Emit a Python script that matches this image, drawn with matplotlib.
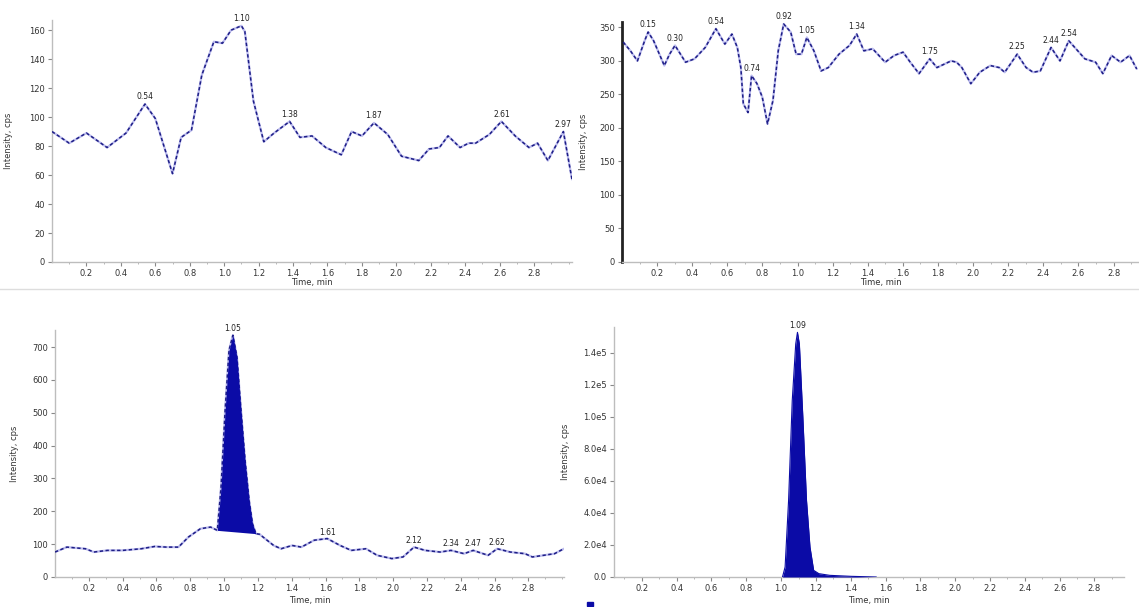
import matplotlib
matplotlib.use("Agg")
import matplotlib.pyplot as plt
import numpy as np

# ---------------- data ----------------
# Panel A (top-left)
a_time = [0.00, 0.10, 0.20, 0.32, 0.43, 0.54, 0.60, 0.70, 0.75, 0.81, 0.87, 0.94, 0.99,
          1.04, 1.10, 1.12, 1.17, 1.23, 1.29, 1.38, 1.44, 1.51, 1.59, 1.68, 1.74, 1.80,
          1.87, 1.95, 2.03, 2.13, 2.19, 2.25, 2.30, 2.37, 2.42, 2.46, 2.54, 2.61, 2.69,
          2.77, 2.82, 2.88, 2.97, 3.02]
a_int = [90, 82, 89, 79, 89, 109, 99, 61, 86, 91, 129, 152, 151, 160, 163, 159, 111, 83,
         89, 97, 86, 87, 79, 74, 90, 87, 96, 88, 73, 70, 78, 79, 87, 79, 82, 82, 88, 97,
         87, 79, 82, 70, 90, 57]
a_peaks = [0.54, 1.10, 1.38, 1.87, 2.61, 2.97]

# Panel B (top-right)
b_time = [0.007, 0.048, 0.088, 0.129, 0.149, 0.180, 0.241, 0.271, 0.302, 0.362, 0.413,
          0.474, 0.535, 0.586, 0.626, 0.657, 0.677, 0.691, 0.718, 0.738, 0.769, 0.799,
          0.829, 0.860, 0.890, 0.921, 0.961, 0.992, 1.022, 1.053, 1.093, 1.134, 1.175,
          1.236, 1.296, 1.337, 1.378, 1.428, 1.499, 1.550, 1.601, 1.642, 1.692, 1.753,
          1.794, 1.875, 1.906, 1.936, 1.987, 2.038, 2.098, 2.149, 2.180, 2.251, 2.302,
          2.342, 2.383, 2.444, 2.495, 2.545, 2.586, 2.637, 2.698, 2.739, 2.789, 2.840,
          2.891, 2.932]
b_int = [328, 315, 300, 330, 343, 330, 293, 310, 323, 298, 303, 320, 348, 325, 340, 320,
         290, 236, 223, 278, 266, 246, 206, 241, 315, 355, 343, 310, 310, 335, 315, 285,
         290, 310, 323, 340, 315, 318, 298, 308, 313, 298, 281, 303, 290, 300, 298, 290,
         266, 283, 293, 290, 283, 310, 290, 283, 285, 320, 300, 330, 318, 303, 298, 281,
         308, 298, 308, 288]
b_peaks = [0.149, 0.302, 0.535, 0.738, 0.921, 1.053, 1.337, 1.753, 2.251, 2.444, 2.545]

# Panel C (bottom-left)
c_time = [0.00, 0.07, 0.18, 0.23, 0.31, 0.40, 0.51, 0.59, 0.66, 0.73, 0.79, 0.86, 0.92,
          0.960, 0.982, 1.006, 1.029, 1.052, 1.076, 1.100, 1.124, 1.148, 1.168, 1.188,
          1.210, 1.293, 1.337, 1.402, 1.457, 1.533, 1.610, 1.686, 1.752, 1.839, 1.905,
          1.992, 2.058, 2.123, 2.189, 2.277, 2.342, 2.419, 2.473, 2.561, 2.615, 2.692,
          2.779, 2.823, 2.889, 2.954, 3.009]
c_int = [76, 91, 86, 76, 81, 81, 86, 93, 91, 91, 122, 147, 152,
         142, 274, 507, 690, 736, 670, 507, 355, 233, 162, 132,
         130, 96, 86, 96, 91, 112, 117, 96, 81, 86, 66,
         56, 61, 91, 81, 76, 81, 71, 81, 66, 86, 76,
         71, 61, 66, 71, 86]
c_peak_range = (0.960, 1.188)
c_peaks = [1.052, 1.610, 2.123, 2.342, 2.473, 2.615]

# Panel D (bottom-right)
d_time = [1.008, 1.023, 1.043, 1.064, 1.084, 1.094, 1.105, 1.125, 1.146, 1.166, 1.187,
          1.217, 1.279, 1.402, 1.546]
d_int = [0, 6230, 47770, 110080, 145400, 152660, 145400, 99700, 47770, 18690, 4150,
         2080, 1040, 415, 0]
d_peaks = [1.094]

time_ticks = [0.2, 0.4, 0.6, 0.8, 1.0, 1.2, 1.4, 1.6, 1.8, 2.0, 2.2, 2.4, 2.6, 2.8]
a_yticks = [0, 20, 40, 60, 80, 100, 120, 140, 160]
b_yticks = [0, 50, 100, 150, 200, 250, 300, 350]
c_yticks = [0, 100, 200, 300, 400, 500, 600, 700]
d_yticks = [0, 20000, 40000, 60000, 80000, 100000, 120000, 140000]
d_yticklabels = ["0.0", "2.0e4", "4.0e4", "6.0e4", "8.0e4", "1.0e5", "1.2e5", "1.4e5"]

xlabel = "Time, min"
ylabel = "Intensity, cps"

# ---------------- figure ----------------
W, H = 1139, 607
fig = plt.figure(figsize=(W / 100, H / 100), dpi=100)
fig.patch.set_facecolor("white")

LINE_DARK = "#1e1e86"
LINE_LIGHT = "#bcbcee"
FILL = "#0b0ba6"
AXC = "#bdbdbd"


def add_ax(left, right, top, bottom):
    return fig.add_axes([left / W, 1 - bottom / H, (right - left) / W, (bottom - top) / H])


def style(ax, xlim, ylim, yticks, yticklabels=None, dark_y=False):
    ax.set_xlim(*xlim)
    ax.set_ylim(*ylim)
    for s in ["top", "right"]:
        ax.spines[s].set_visible(False)
    ax.spines["bottom"].set_color(AXC)
    ax.spines["bottom"].set_linewidth(1.0)
    if dark_y:
        ax.spines["left"].set_color("#222222")
        ax.spines["left"].set_linewidth(2.0)
    else:
        ax.spines["left"].set_color(AXC)
        ax.spines["left"].set_linewidth(1.0)
    ax.set_xticks(time_ticks)
    ax.set_xticklabels([f"{t:.1f}" for t in time_ticks])
    ax.set_xticks(np.arange(0.1, xlim[1], 0.1), minor=True)
    ax.set_yticks(yticks)
    if yticklabels is not None:
        ax.set_yticklabels(yticklabels)
    ax.tick_params(axis="both", which="major", labelsize=6, length=3, width=0.8,
                   color="#888888", labelcolor="#333333", pad=2)
    ax.tick_params(axis="both", which="minor", length=1.5, width=0.6, color="#aaaaaa")
    ax.patch.set_alpha(0)


def trace(ax, x, y):
    ax.plot(x, y, color=LINE_LIGHT, lw=1.6, solid_capstyle="round", zorder=2)
    ax.plot(x, y, color=LINE_DARK, lw=1.1, linestyle=(0, (2.2, 1.6)), zorder=3)


def peak_labels(ax, x, y, peaks, dy):
    for p in peaks:
        v = np.interp(p, x, y)
        ax.text(p, v + dy, f"{p:.2f}", fontsize=5.5, ha="center", va="bottom",
                color="#222222", clip_on=False)


def labels(ax, xlab_px_y, ylab_px_x, left, right, top, bottom):
    ax.set_xlabel(xlabel, fontsize=6, color="#333333")
    ax.set_ylabel(ylabel, fontsize=6, color="#333333")
    ax.xaxis.set_label_coords(0.5, -(xlab_px_y - bottom) / (bottom - top))
    ax.yaxis.set_label_coords((ylab_px_x - left) / (right - left), 0.5)


# Panel A
pA = (52, 572, 20, 262)
axA = add_ax(*pA)
style(axA, (0, 3.02), (0, 167), a_yticks)
trace(axA, a_time, a_int)
peak_labels(axA, a_time, a_int, a_peaks, 2)
labels(axA, 278, 13, *pA)

# Panel B
pB = (622, 1139, 22, 262)
axB = add_ax(*pB)
style(axB, (0, 2.945), (0, 358), b_yticks, dark_y=True)
trace(axB, b_time, b_int)
peak_labels(axB, b_time, b_int, b_peaks, 4)
labels(axB, 278, 588, *pB)

# Panel C
pC = (55, 564, 330, 577)
axC = add_ax(*pC)
style(axC, (0, 3.01), (0, 752), c_yticks)
trace(axC, c_time, c_int)
cx = np.array(c_time)
cy = np.array(c_int)
m = (cx >= c_peak_range[0]) & (cx <= c_peak_range[1])
base = np.interp(cx[m], [cx[m][0], cx[m][-1]], [cy[m][0], cy[m][-1]])
axC.fill_between(cx[m], base, cy[m], color=FILL, lw=0, zorder=4)
peak_labels(axC, c_time, c_int, c_peaks, 6)
labels(axC, 596, 19, *pC)

# Panel D
pD = (614, 1124, 327, 577)
axD = add_ax(*pD)
style(axD, (0.04, 2.97), (0, 1.56e5), d_yticks, d_yticklabels)
axD.fill_between(d_time, 0, d_int, color=FILL, lw=0, zorder=4)
axD.plot(d_time, d_int, color=FILL, lw=0.8, zorder=5)
peak_labels(axD, d_time, d_int, d_peaks, 1200)
labels(axD, 596, 570, *pD)

# separator line under top row
fig.add_artist(plt.Line2D([0, 1], [1 - 289 / H, 1 - 289 / H], color="#dddddd", lw=1.0))
# small blue marker at bottom-left of lower right panel
fig.add_artist(plt.Rectangle((587 / W, 1 - 606 / H), 6 / W, 4 / H, color=FILL))

fig.savefig("out.png", dpi=100, facecolor="white")
